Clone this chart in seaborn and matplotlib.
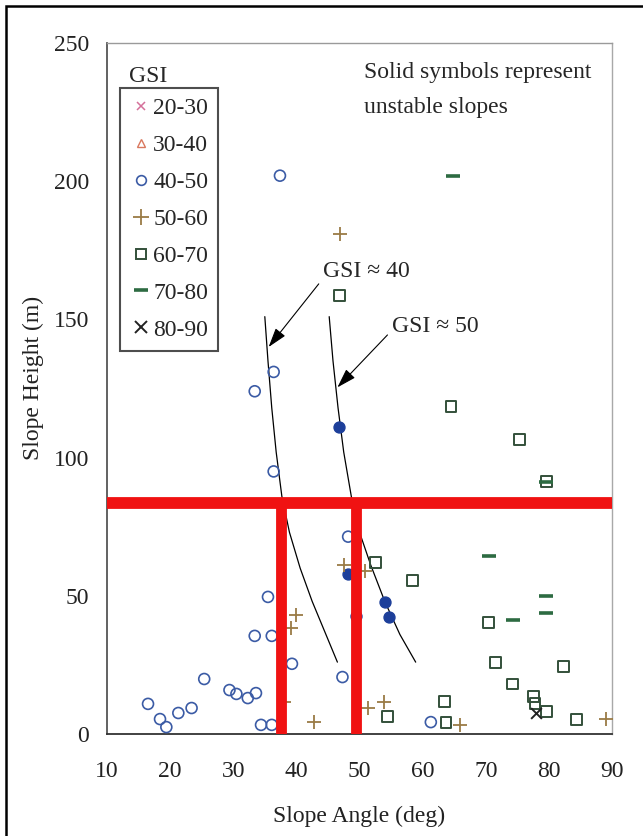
import matplotlib
matplotlib.use("Agg")
import matplotlib.pyplot as plt
from matplotlib.lines import Line2D
from matplotlib.patches import Rectangle
import seaborn as sns

sns.set_style("white")
plt.rcParams["font.family"] = ["Liberation Serif", "DejaVu Serif"]

# ---- data: slope angle (deg) and slope height (m) by GSI class ----
gsi40_50_angle = [37.4, 36.4, 33.4, 36.4, 35.5, 33.4, 36.1, 39.3, 25.4, 29.4, 30.5,
                  32.3, 33.6, 16.5, 18.4, 19.4, 21.3, 23.4, 34.4, 36.1, 47.3, 48.2, 61.3]
gsi40_50_height = [202, 131, 124, 95, 49.6, 35.5, 35.5, 25.4, 19.9, 15.9, 14.5,
                   13.0, 14.8, 10.9, 5.4, 2.5, 7.6, 9.4, 3.3, 3.3, 20.6, 71.4, 4.3]

# unstable slopes (solid symbols), GSI 40-50
unstable_angle = [46.8, 48.2, 49.5, 54.1, 54.7]
unstable_height = [111, 58, 42.8, 47.8, 42.4]

gsi50_60_angle = [46.9, 47.6, 50.8, 39.9, 39.2, 42.8, 51.3, 53.9, 65.9, 38.0, 89.0]
gsi50_60_height = [181, 61, 59, 43, 38.4, 4.3, 9.4, 11.6, 3.3, 11.6, 5.4]

gsi60_70_angle = [46.8, 64.5, 75.3, 79.6, 52.5, 58.4, 70.4, 71.5, 74.3, 77.5, 77.8,
                  79.6, 82.3, 84.4, 63.5, 63.7, 54.4]
gsi60_70_height = [158.7, 118.5, 106.5, 91.3, 62, 55.4, 40.2, 25.7, 18.1, 13.4, 11,
                   8.3, 24.3, 5.4, 11.6, 4.3, 6.2]

gsi70_80_angle = [64.8, 70.5, 79.6, 79.6, 74.3, 79.6]
gsi70_80_height = [201.8, 64.5, 50, 43.8, 41.3, 91.3]

gsi80_90_angle = [78.0]
gsi80_90_height = [7.6]

# approximate stability boundaries
gsi40_curve_angle = [35.0, 35.5, 36.1, 36.8, 37.7, 38.9, 40.6, 42.5, 44.5, 46.5]
gsi40_curve_height = [151, 135, 118, 102, 86, 73, 60, 48, 37, 26]
gsi50_curve_angle = [45.2, 45.8, 46.6, 47.5, 48.7, 50.0, 51.8, 54.0, 56.4, 58.9]
gsi50_curve_height = [151, 135, 118, 102, 86, 73, 61, 48, 36, 26]

design_height = 83.5
design_angles = [37.5, 49.5]

legend_labels = ["20-30", "30-40", "40-50", "50-60", "60-70", "70-80", "80-90"]
x_ticks = [10, 20, 30, 40, 50, 60, 70, 80, 90]
y_ticks = [0, 50, 100, 150, 200, 250]

# ---- styling ----
C_PINK = "#d5709a"
C_SALMON = "#d9785e"
C_BLUE = "#3b5ba5"
C_SOLID = "#1d3f9a"
C_TAN = "#9a7b45"
C_SQUARE = "#33503a"
C_DASH = "#2d6b42"
C_BLACK = "#222222"
C_RED = "#f01212"
FS = 17

fig = plt.figure(figsize=(6.43, 8.36), dpi=100)
ax = fig.add_axes([107 / 643, 1 - 734 / 836, 505 / 643, 691 / 836])

sns.scatterplot(x=gsi40_50_angle, y=gsi40_50_height, ax=ax, marker="o", s=62,
                facecolor="none", edgecolor=C_BLUE, linewidth=1.2, zorder=3, clip_on=False)
sns.scatterplot(x=unstable_angle, y=unstable_height, ax=ax, marker="o", s=62,
                color=C_SOLID, edgecolor=C_SOLID, linewidth=1.0, zorder=3)
sns.scatterplot(x=gsi50_60_angle, y=gsi50_60_height, ax=ax, marker="+", s=110,
                color=C_TAN, linewidth=1.3, zorder=3)
sns.scatterplot(x=gsi60_70_angle, y=gsi60_70_height, ax=ax, marker="s", s=62,
                facecolor="none", edgecolor=C_SQUARE, linewidth=1.4, zorder=3)
sns.scatterplot(x=gsi70_80_angle, y=gsi70_80_height, ax=ax, marker="_", s=110,
                color=C_DASH, linewidth=2.6, zorder=3)
sns.scatterplot(x=gsi80_90_angle, y=gsi80_90_height, ax=ax, marker="x", s=60,
                color=C_BLACK, linewidth=1.4, zorder=3)

sns.lineplot(x=gsi40_curve_angle, y=gsi40_curve_height, ax=ax, sort=False,
             estimator=None, color="black", linewidth=0.9, zorder=2)
sns.lineplot(x=gsi50_curve_angle, y=gsi50_curve_height, ax=ax, sort=False,
             estimator=None, color="black", linewidth=0.9, zorder=2)

# design height and the resulting slope angles
ax.axhline(design_height, color=C_RED, linewidth=8.5, zorder=5, solid_capstyle="butt")
ax.vlines(design_angles, 0, design_height, color=C_RED, linewidth=7.8, zorder=5)

arrow = dict(arrowstyle="-|>,head_length=0.7,head_width=0.22", color="black",
             linewidth=0.8, shrinkA=1, shrinkB=0)
ax.annotate("GSI \u2248 40", xy=(35.6, 140), xytext=(44.2, 167.4), fontsize=FS,
            ha="left", va="center", arrowprops=dict(arrow, relpos=(0.0, 0.15)))
ax.annotate("GSI \u2248 50", xy=(46.5, 125.4), xytext=(55.1, 147.5), fontsize=FS,
            ha="left", va="center", arrowprops=dict(arrow, relpos=(0.0, 0.3)))

ax.text(0.508, 0.957, "Solid symbols represent", transform=ax.transAxes,
        fontsize=FS, ha="left", va="center")
ax.text(0.508, 0.907, "unstable slopes", transform=ax.transAxes,
        fontsize=FS, ha="left", va="center")

# legend
handles = [
    Line2D([], [], linestyle="none", marker="x", markersize=6, color=C_PINK, mew=1.1),
    Line2D([], [], linestyle="none", marker="^", markersize=6, mfc="none", mec=C_SALMON, mew=1.0),
    Line2D([], [], linestyle="none", marker="o", markersize=7, mfc="none", mec=C_BLUE, mew=1.2),
    Line2D([], [], linestyle="none", marker="+", markersize=11, color=C_TAN, mew=1.3),
    Line2D([], [], linestyle="none", marker="s", markersize=7, mfc="none", mec=C_SQUARE, mew=1.4),
    Line2D([], [], linestyle="none", marker="_", markersize=10, color=C_DASH, mew=2.6),
    Line2D([], [], linestyle="none", marker="x", markersize=8, color=C_BLACK, mew=1.4),
]
leg = ax.legend(handles, legend_labels, loc="upper left", bbox_to_anchor=(0.026, 0.935),
                borderaxespad=0, fontsize=FS, frameon=True, fancybox=False,
                handlelength=0.9, handletextpad=0.08, borderpad=0.42, labelspacing=0.65)
leg.get_frame().set_edgecolor("#222222")
leg.get_frame().set_linewidth(1.5)
ax.text(0.081, 0.951, "GSI", transform=ax.transAxes, fontsize=FS, ha="center", va="center")

ax.set_xlim(10, 90)
ax.set_ylim(0, 250)
ax.set_xticks(x_ticks)
ax.set_yticks(y_ticks)
ax.tick_params(axis="both", direction="inout", length=14, width=1.2, color="#333333",
               labelsize=FS, labelcolor="#222222")
ax.tick_params(axis="x", pad=12.5)
ax.tick_params(axis="y", pad=6)
ax.set_xlabel("Slope Angle (deg)", fontsize=FS, labelpad=17, color="#222222")
ax.set_ylabel("Slope Height (m)", fontsize=FS, color="#222222")
ax.yaxis.set_label_coords(-0.125, 0.515)

for side, col, lw in [("left", "#555555", 1.3), ("bottom", "#333333", 1.3),
                      ("top", "#9a9a9a", 1.0), ("right", "#a8a8a8", 1.0)]:
    ax.spines[side].set_color(col)
    ax.spines[side].set_linewidth(lw)

# page frame
fig.add_artist(Rectangle((6 / 643, -0.2), 1.5, 1.2 - 6 / 836, transform=fig.transFigure,
                         fill=False, edgecolor="black", linewidth=1.8))

fig.savefig("out.png", dpi=100, facecolor="white")
